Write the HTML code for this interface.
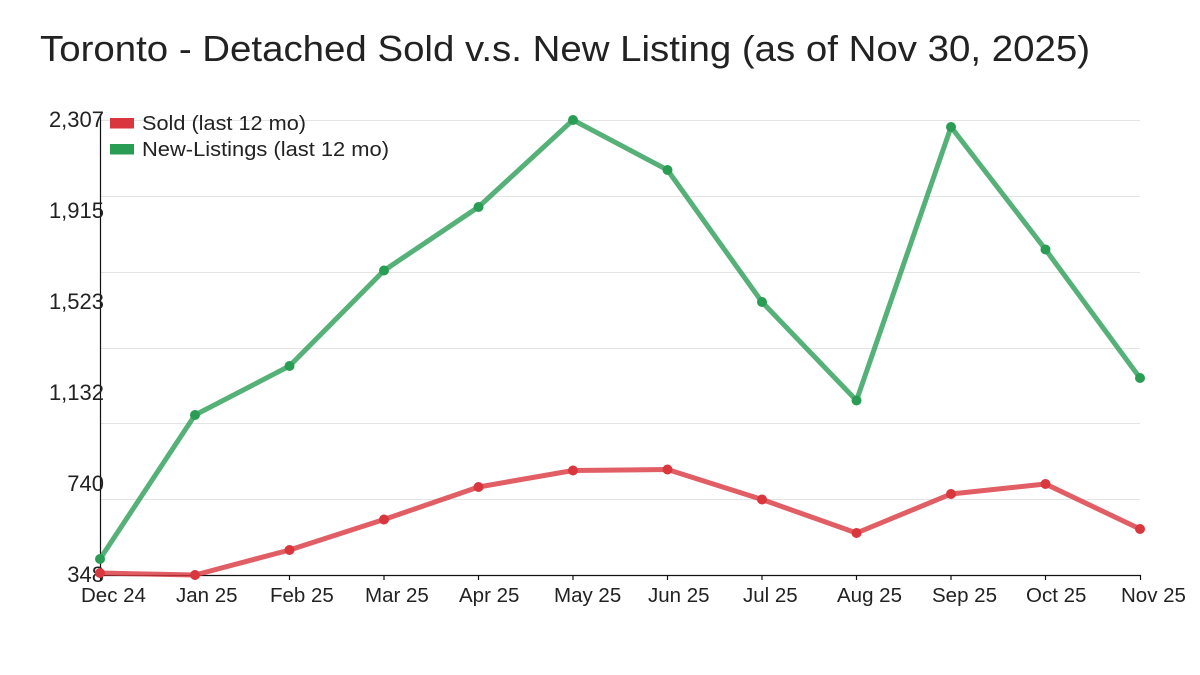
<!DOCTYPE html>
<html>
<head>
<meta charset="utf-8">
<style>
  html,body{margin:0;padding:0;background:#fff;}
  svg{display:block;}
  text{font-family:"Liberation Sans","DejaVu Sans",sans-serif;fill:#222;}
</style>
</head>
<body>
<svg width="1200" height="675" viewBox="0 0 1200 675" xmlns="http://www.w3.org/2000/svg">
  <rect width="1200" height="675" fill="#fff"/>
  <!-- title -->
  <text x="40" y="61" font-size="36" textLength="1050" lengthAdjust="spacingAndGlyphs">Toronto - Detached Sold v.s. New Listing (as of Nov 30, 2025)</text>

  <!-- gridlines -->
  <g stroke="#e4e4e4" stroke-width="1">
    <line x1="100" y1="120.5" x2="1140" y2="120.5"/>
    <line x1="100" y1="196.5" x2="1140" y2="196.5"/>
    <line x1="100" y1="272.5" x2="1140" y2="272.5"/>
    <line x1="100" y1="348.5" x2="1140" y2="348.5"/>
    <line x1="100" y1="423.5" x2="1140" y2="423.5"/>
    <line x1="100" y1="499.5" x2="1140" y2="499.5"/>
  </g>

  <!-- axes -->
  <line x1="100.5" y1="114" x2="100.5" y2="576" stroke="#111" stroke-width="1.2"/>
  <line x1="100" y1="575.5" x2="1141" y2="575.5" stroke="#111" stroke-width="1.2"/>
  <g stroke="#111" stroke-width="1.2">
    <line x1="100.5" y1="575" x2="100.5" y2="580"/>
    <line x1="195" y1="575" x2="195" y2="580"/>
    <line x1="289.5" y1="575" x2="289.5" y2="580"/>
    <line x1="384" y1="575" x2="384" y2="580"/>
    <line x1="478.5" y1="575" x2="478.5" y2="580"/>
    <line x1="573" y1="575" x2="573" y2="580"/>
    <line x1="667.5" y1="575" x2="667.5" y2="580"/>
    <line x1="762" y1="575" x2="762" y2="580"/>
    <line x1="856.5" y1="575" x2="856.5" y2="580"/>
    <line x1="951" y1="575" x2="951" y2="580"/>
    <line x1="1045.5" y1="575" x2="1045.5" y2="580"/>
    <line x1="1140.5" y1="575" x2="1140.5" y2="580"/>
  </g>

  <!-- y labels -->
  <g font-size="22" text-anchor="end">
    <text x="104" y="127">2,307</text>
    <text x="104" y="218">1,915</text>
    <text x="104" y="309">1,523</text>
    <text x="104" y="400">1,132</text>
    <text x="104" y="491">740</text>
    <text x="104" y="582">348</text>
  </g>

  <!-- x labels -->
  <g font-size="20.5">
    <text x="81" y="602">Dec 24</text>
    <text x="176" y="602">Jan 25</text>
    <text x="270" y="602">Feb 25</text>
    <text x="365" y="602">Mar 25</text>
    <text x="459" y="602">Apr 25</text>
    <text x="554" y="602">May 25</text>
    <text x="648" y="602">Jun 25</text>
    <text x="743" y="602">Jul 25</text>
    <text x="837" y="602">Aug 25</text>
    <text x="932" y="602">Sep 25</text>
    <text x="1026" y="602">Oct 25</text>
    <text x="1121" y="602">Nov 25</text>
  </g>

  <!-- green series -->
  <polyline fill="none" stroke="#2a9d55" stroke-opacity="0.8" stroke-width="5" stroke-linejoin="round"
    points="100,559 195,415 289.5,366 384,270.5 478.5,207 573,120 667.5,170 762,302 856.5,400.5 951,127 1045.5,249.5 1140,378"/>
  <g fill="#2a9d55">
    <circle cx="100" cy="559" r="5"/>
    <circle cx="195" cy="415" r="5"/>
    <circle cx="289.5" cy="366" r="5"/>
    <circle cx="384" cy="270.5" r="5"/>
    <circle cx="478.5" cy="207" r="5"/>
    <circle cx="573" cy="120" r="5"/>
    <circle cx="667.5" cy="170" r="5"/>
    <circle cx="762" cy="302" r="5"/>
    <circle cx="856.5" cy="400.5" r="5"/>
    <circle cx="951" cy="127" r="5"/>
    <circle cx="1045.5" cy="249.5" r="5"/>
    <circle cx="1140" cy="378" r="5"/>
  </g>

  <!-- red series -->
  <polyline fill="none" stroke="#d9363e" stroke-opacity="0.8" stroke-width="5" stroke-linejoin="round"
    points="100,573 195,575 289.5,550 384,519.5 478.5,487 573,470.5 667.5,469.5 762,499.5 856.5,533 951,494 1045.5,484 1140,529"/>
  <g fill="#d9363e">
    <circle cx="100" cy="573" r="5"/>
    <circle cx="195" cy="575" r="5"/>
    <circle cx="289.5" cy="550" r="5"/>
    <circle cx="384" cy="519.5" r="5"/>
    <circle cx="478.5" cy="487" r="5"/>
    <circle cx="573" cy="470.5" r="5"/>
    <circle cx="667.5" cy="469.5" r="5"/>
    <circle cx="762" cy="499.5" r="5"/>
    <circle cx="856.5" cy="533" r="5"/>
    <circle cx="951" cy="494" r="5"/>
    <circle cx="1045.5" cy="484" r="5"/>
    <circle cx="1140" cy="529" r="5"/>
  </g>

  <!-- legend -->
  <rect x="110" y="118" width="24" height="10.5" fill="#d9363e"/>
  <rect x="110" y="144" width="24" height="10.5" fill="#2a9d55"/>
  <text x="142" y="130" font-size="20" textLength="164" lengthAdjust="spacingAndGlyphs">Sold (last 12 mo)</text>
  <text x="142" y="156" font-size="20" textLength="247" lengthAdjust="spacingAndGlyphs">New-Listings (last 12 mo)</text>
</svg>
</body>
</html>
